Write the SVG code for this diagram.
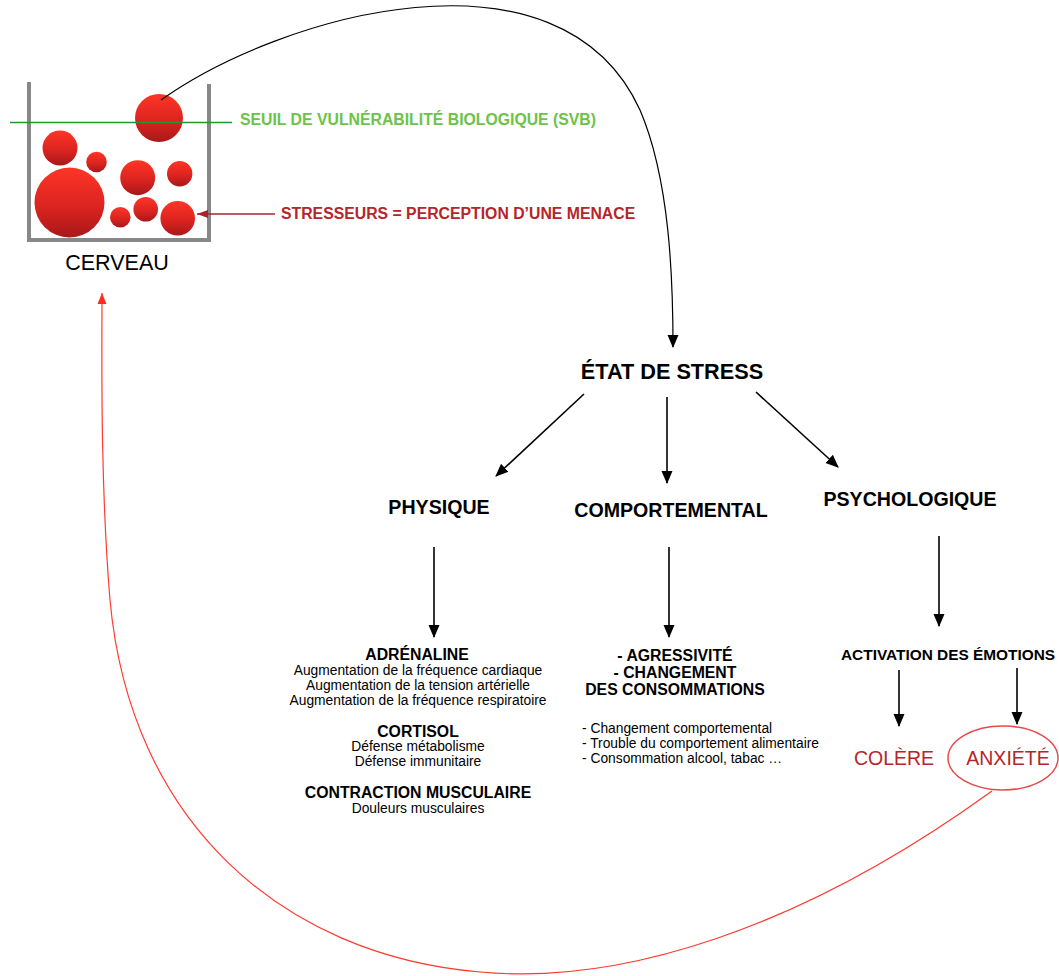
<svg xmlns="http://www.w3.org/2000/svg" width="1059" height="976" viewBox="0 0 1059 976">
<style>
text{font-family:"Liberation Sans",Arial,sans-serif}
.b{font-weight:bold;fill:#000}
.t14{font-size:15.8px}
.t12{font-size:13.8px;fill:#000}
.h{font-size:19.6px}
.c{text-anchor:middle}
.blk{stroke:#000;stroke-width:1.6;fill:none;marker-end:url(#ab)}
.ball{fill:url(#g)}
</style>
<defs>
<linearGradient id="g" x1="0" y1="0" x2="0" y2="1">
<stop offset="0" stop-color="#ff3526"/>
<stop offset="0.55" stop-color="#dc2420"/>
<stop offset="1" stop-color="#a8181a"/>
</linearGradient>
<marker id="ab" markerUnits="userSpaceOnUse" markerWidth="14" markerHeight="14" viewBox="0 0 14 14" refX="12" refY="7" orient="auto">
<path d="M0,1.5 L13,7 L0,12.5 Z" fill="#000"/>
</marker>
<marker id="ar" markerUnits="userSpaceOnUse" markerWidth="12" markerHeight="12" viewBox="0 0 12 12" refX="11" refY="6" orient="auto">
<path d="M0,1.5 L11,6 L0,10.5 Z" fill="#ff2a20"/>
</marker>
<marker id="ad" markerUnits="userSpaceOnUse" markerWidth="12" markerHeight="12" viewBox="0 0 12 12" refX="11" refY="6" orient="auto">
<path d="M0,2 L11,6 L0,10 Z" fill="#a8242a"/>
</marker>
</defs>
<rect width="1059" height="976" fill="#fff"/>

<g id="cerveau">
<path d="M29,82 V240 H209 V84" fill="none" stroke="#888" stroke-width="4"/>
<circle class="ball" cx="159" cy="118" r="24"/>
<circle class="ball" cx="60" cy="148" r="17.5"/>
<circle class="ball" cx="96.5" cy="162" r="10.3"/>
<circle class="ball" cx="69.5" cy="202.5" r="35"/>
<circle class="ball" cx="137.7" cy="177.7" r="17.5"/>
<circle class="ball" cx="179.7" cy="173.7" r="12.7"/>
<circle class="ball" cx="120.3" cy="217.3" r="10.3"/>
<circle class="ball" cx="145.7" cy="209.3" r="12.3"/>
<circle class="ball" cx="177.7" cy="218.3" r="17.3"/>
<line x1="10" y1="122.5" x2="232" y2="122.5" stroke="#1f9a2a" stroke-width="1.6"/>
<text x="117" y="270" class="c" font-size="21.5" fill="#000">CERVEAU</text>
</g>

<g id="svb">
<text x="240" y="125" class="t14" font-weight="bold" fill="#6cc346">SEUIL DE VULNÉRABILITÉ BIOLOGIQUE (SVB)</text>
</g>

<g id="stresseurs">
<text x="281" y="219" class="t14" font-weight="bold" fill="#b5252a">STRESSEURS = PERCEPTION D’UNE MENACE</text>
</g>

<g id="etat">
<text x="672" y="379" class="b c" font-size="21.7">ÉTAT DE STRESS</text>
</g>
<g id="physique">
<text x="439" y="514" class="b c h">PHYSIQUE</text>
</g>
<g id="comportemental">
<text x="671" y="517" class="b c h">COMPORTEMENTAL</text>
</g>
<g id="psychologique">
<text x="910" y="506" class="b c h">PSYCHOLOGIQUE</text>
</g>

<g id="physique-details">
<text x="417" y="660" class="b c t14">ADRÉNALINE</text>
<text x="418" y="675" class="t12 c">Augmentation de la fréquence cardiaque</text>
<text x="418" y="690" class="t12 c">Augmentation de la tension artérielle</text>
<text x="418" y="705" class="t12 c">Augmentation de la fréquence respiratoire</text>
<text x="418" y="737" class="b c t14">CORTISOL</text>
<text x="418" y="751" class="t12 c">Défense métabolisme</text>
<text x="418" y="766" class="t12 c">Défense immunitaire</text>
<text x="418" y="798" class="b c t14">CONTRACTION MUSCULAIRE</text>
<text x="418" y="813" class="t12 c">Douleurs musculaires</text>
</g>

<g id="comportemental-details">
<text x="675" y="661" class="b c t14">- AGRESSIVITÉ</text>
<text x="675" y="678" class="b c t14">- CHANGEMENT</text>
<text x="675" y="695" class="b c t14">DES CONSOMMATIONS</text>
<text x="582" y="733" class="t12">- Changement comportemental</text>
<text x="582" y="748" class="t12">- Trouble du comportement alimentaire</text>
<text x="582" y="763" class="t12">- Consommation alcool, tabac …</text>
</g>

<g id="emotions">
<text x="841" y="660" class="b" font-size="15.4px">ACTIVATION DES ÉMOTIONS</text>
</g>
<g id="colere">
<text x="894" y="765" class="c" font-size="19.5" fill="#b5252a">COLÈRE</text>
</g>
<g id="anxiete">
<ellipse cx="1003" cy="758" rx="55" ry="32" fill="none" stroke="#e84a4a" stroke-width="1.5"/>
<text x="1008" y="765" class="c" font-size="19.5" fill="#b5252a">ANXIÉTÉ</text>
</g>

<g id="connectors">
<path d="M161,100 C280,15 560,-65 640,110 C670,180 673,280 673,347" fill="none" stroke="#000" stroke-width="1.2" marker-end="url(#ab)"/>
<line x1="275" y1="214" x2="197" y2="214" stroke="#a8242a" stroke-width="1.3" marker-end="url(#ad)"/>
<line x1="584" y1="394" x2="496" y2="476" class="blk"/>
<line x1="667" y1="397" x2="667" y2="483" class="blk"/>
<line x1="756" y1="392" x2="838" y2="467" class="blk"/>
<line x1="434" y1="547" x2="434" y2="637" class="blk"/>
<line x1="669" y1="547" x2="669" y2="637" class="blk"/>
<line x1="939" y1="536" x2="939" y2="626" class="blk"/>
<line x1="899" y1="670" x2="899" y2="726" class="blk"/>
<line x1="1017" y1="668" x2="1017" y2="724" class="blk"/>
<path d="M992,791 C800,930 620,985 480,972 C280,955 130,820 110,600 C100,480 102,350 102,293" fill="none" stroke="#ff3a30" stroke-width="1.2" marker-end="url(#ar)"/>
</g>
</svg>
